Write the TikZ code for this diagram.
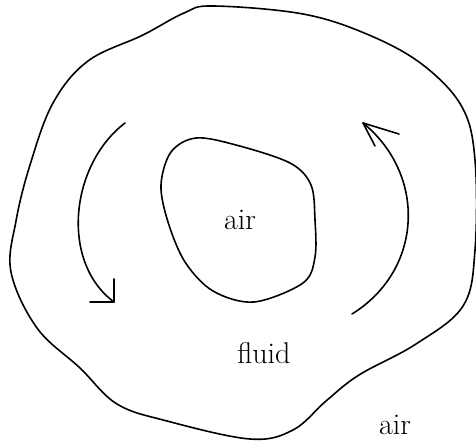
\documentclass[tikz,border=0pt]{standalone}
\begin{document}
\begin{tikzpicture}[x=1pt,y=-1pt,
  stroke/.style={line width=1.6pt,line cap=round,line join=round},
  lbl/.style={anchor=base,inner sep=0pt,font=\fontsize{30}{36}\selectfont}]
\useasboundingbox (0,0) rectangle (476,443);
% outer boundary
\draw[stroke] plot[smooth cycle,tension=0.6] coordinates{
 (213,6) (303,14) (369,35) (423,65) (462,107) (475,160) (475,250) (463,306) (416,344)
 (359,375) (326,401) (293,430) (250,439) (167,421) (117,404) (80,368) (37,328)
 (11,272) (16,221) (30,165) (53,103) (88,61) (143,35) (184,13)};
% inner boundary
\draw[stroke] plot[smooth cycle,tension=0.55] coordinates{
 (196,138) (236,145) (290,163) (311,185) (315,220) (315,257) (303,283) (254,302)
 (213,291) (185,262) (168,222) (161,185) (171,152)};
% left arrow
\coordinate (ls) at (125,123);
\coordinate (la) at (114,302);
\draw[stroke] (ls) .. controls (70,165) and (60,262) .. (la);
\draw[stroke] (114,279) -- (la) -- (90,302);
% right arrow
\coordinate (rs) at (352,314);
\coordinate (ra) at (363,123);
\draw[stroke] (rs) .. controls (423,270) and (427,175) .. (ra);
\draw[stroke] (399,134) -- (ra) -- (375,146);
% labels
\node[lbl] (ain) at (240,230) {air};
\node[lbl] (fl) at (264,363) {fluid};
\node[lbl] (aout) at (395,434) {air};
\end{tikzpicture}
\end{document}
